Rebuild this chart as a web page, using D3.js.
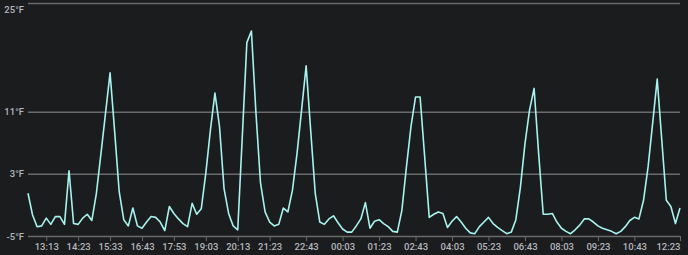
<!DOCTYPE html>
<html>
  <body>
    <style>
      body {
        margin: 0;
        background: #1b1c1e;
      }
      svg {
        display: block;
      }
      .tick text {
        fill: #b3b7bd;
        font-family: Roboto, sans-serif;
        font-size: 9.5px;
        font-weight: 500;
      }
    </style>
    <div class="chart"></div>
    <script src="https://cdn.jsdelivr.net/npm/d3@7"></script>
    <script type="text/javascript">
      const width = 688;
      const height = 255;
      const margin = { top: 3, right: 8, bottom: 19, left: 28 };

      // readings every 10 minutes, first one at 12:33
      const startTime = '12:33';
      const stepMinutes = 10;
      const temps = [
        0.5, -2.3, -3.8, -3.7, -2.7, -3.5, -2.5, -2.5, -3.5, 3.4,
        -3.4, -3.5, -2.7, -2.2, -3.0, 0.5, 5.6, 10.8, 16.0, 8.5,
        0.7, -2.9, -3.7, -1.4, -3.7, -4.0, -3.2, -2.5, -2.6, -3.2,
        -4.3, -1.2, -2.1, -2.8, -3.4, -3.8, -0.8, -2.2, -1.5, 3.1,
        8.6, 13.4, 9.1, 1.1, -2.1, -3.7, -4.2, 7.8, 19.9, 21.4,
        10.8, 1.8, -1.9, -3.2, -3.7, -3.5, -1.4, -1.9, 0.9, 5.6,
        11.2, 16.9, 8.6, 0.5, -3.2, -3.5, -2.8, -2.4, -3.3, -4.1,
        -4.5, -4.5, -3.7, -2.8, -0.7, -4.0, -3.1, -2.9, -3.4, -3.8,
        -4.4, -4.5, -1.7, 3.9, 9.1, 12.9, 12.9, 5.2, -2.6, -2.2,
        -1.9, -2.1, -3.9, -3.1, -2.5, -3.2, -4.0, -4.6, -4.7, -3.8,
        -3.2, -2.6, -3.4, -3.9, -4.3, -4.7, -4.5, -2.9, 1.3, 6.9,
        11.2, 14.0, 5.6, -2.2, -2.2, -2.1, -3.2, -4.0, -4.4, -4.7,
        -4.2, -3.6, -2.8, -2.8, -3.2, -3.7, -4.0, -4.2, -4.4, -4.7,
        -4.4, -3.8, -3.0, -2.6, -2.8, -0.4, 3.9, 9.5, 15.2, 7.4,
        -0.4, -1.2, -3.4, -1.4,
      ];
      const timeLabels = [
        '13:13', '14:23', '15:33', '16:43', '17:53', '19:03', '20:13',
        '21:23', '22:43', '00:03', '01:23', '02:43', '04:03', '05:23',
        '06:43', '08:03', '09:23', '10:43', '12:23',
      ];
      const tempTicks = [-5, 3, 11, 25];

      // turn "HH:MM" labels into dates, rolling over midnight
      function toDates(labels, base) {
        let dayOffset = 0;
        let prev = -1;
        return labels.map((s) => {
          const [h, m] = s.split(':').map(Number);
          const mins = h * 60 + m;
          if (mins < prev) dayOffset++;
          prev = mins;
          return new Date(base.getTime() + (dayOffset * 1440 + mins) * 60000);
        });
      }
      const day0 = new Date(2024, 0, 1, 0, 0);
      const start = toDates([startTime], day0)[0];
      const data = temps.map((t, i) => ({
        time: new Date(start.getTime() + i * stepMinutes * 60000),
        value: t,
      }));
      const tickDates = toDates([startTime].concat(timeLabels), day0).slice(1);

      const x = d3
        .scaleTime()
        .domain(d3.extent(data, (d) => d.time))
        .range([margin.left, width - margin.right]);
      const y = d3
        .scaleLinear()
        .domain([-5, 25])
        .range([height - margin.bottom, margin.top]);

      const svg = d3
        .select('.chart')
        .append('svg')
        .attr('width', width)
        .attr('height', height);

      // horizontal grid + y labels
      const yAxis = svg
        .append('g')
        .attr('transform', `translate(${margin.left},0)`)
        .call(
          d3
            .axisLeft(y)
            .tickValues(tempTicks)
            .tickSize(-(width - margin.left - margin.right))
            .tickPadding(4)
            .tickFormat((d) => d + '°F')
        );
      yAxis.select('.domain').remove();
      yAxis.selectAll('.tick line').attr('stroke', '#6a6a6a').attr('stroke-width', 1.5);
      yAxis
        .selectAll('.tick text')
        .filter((d) => d === 25)
        .attr('dy', '1.05em');

      // x axis ticks
      const xAxis = svg
        .append('g')
        .attr('transform', `translate(0,${height - margin.bottom})`)
        .call(
          d3
            .axisBottom(x)
            .tickValues(tickDates)
            .tickSize(5)
            .tickPadding(2)
            .tickFormat(d3.timeFormat('%H:%M'))
        );
      xAxis.select('.domain').remove();
      xAxis.selectAll('.tick line').attr('stroke', '#6a6a6a');
      // last label sits at the right edge
      xAxis
        .selectAll('.tick text')
        .filter((d, i, n) => i === n.length - 1)
        .attr('text-anchor', 'end');

      const line = d3
        .line()
        .x((d) => x(d.time))
        .y((d) => y(d.value));

      svg
        .append('path')
        .datum(data)
        .attr('fill', 'none')
        .attr('stroke', '#a6f3ef')
        .attr('stroke-width', 1.6)
        .attr('stroke-linejoin', 'round')
        .attr('d', line);
    </script>
  </body>
</html>
